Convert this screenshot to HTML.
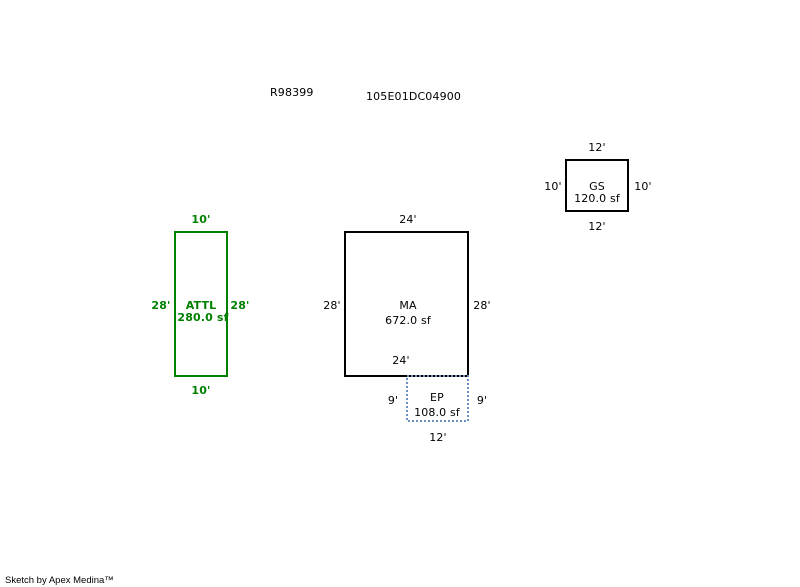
<!DOCTYPE html>
<html><head><style>body{margin:0;background:#fff}svg{display:block}</style></head><body>
<svg width="800" height="587" xmlns="http://www.w3.org/2000/svg" font-family="DejaVu Sans, Verdana, sans-serif" font-size="11" letter-spacing="0.15">
<rect x="0" y="0" width="800" height="587" fill="#fff"/>
<text x="270" y="96" fill="#000">R98399</text>
<text x="366" y="100" fill="#000">105E01DC04900</text>
<!-- GS -->
<rect x="566" y="160" width="62" height="51" fill="none" stroke="#000" stroke-width="2"/>
<g fill="#000" text-anchor="middle">
<text x="597" y="151">12'</text>
<text x="597" y="190">GS</text>
<text x="597" y="202">120.0 sf</text>
<text x="597" y="230">12'</text>
<text x="553" y="190">10'</text>
<text x="643" y="190">10'</text>
</g>
<!-- ATTL -->
<rect x="175" y="232" width="52" height="144" fill="none" stroke="#008000" stroke-width="2"/>
<g fill="#008000" text-anchor="middle" font-weight="bold">
<text x="201" y="223">10'</text>
<text x="201" y="309">ATTL</text>
<text x="203" y="321">280.0 sf</text>
<text x="161" y="309">28'</text>
<text x="240" y="309">28'</text>
<text x="201" y="394">10'</text>
</g>
<!-- MA -->
<rect x="345" y="232" width="123" height="144" fill="none" stroke="#000" stroke-width="2"/>
<g fill="#000" text-anchor="middle">
<text x="408" y="223">24'</text>
<text x="408" y="309">MA</text>
<text x="408" y="324">672.0 sf</text>
<text x="401" y="364">24'</text>
<text x="332" y="309">28'</text>
<text x="482" y="309">28'</text>
</g>
<!-- EP -->
<rect x="407" y="376" width="61" height="45" fill="none" stroke="#6a8fc0" stroke-width="2" stroke-dasharray="2,2"/>
<g fill="#000" text-anchor="middle">
<text x="437" y="401">EP</text>
<text x="437" y="416">108.0 sf</text>
<text x="393" y="404">9'</text>
<text x="482" y="404">9'</text>
<text x="438" y="441">12'</text>
</g>
<text x="5" y="583" font-family="Liberation Sans, Arial, sans-serif" font-size="9.5" letter-spacing="0" fill="#000">Sketch by Apex Medina™</text>
</svg>
</body></html>
